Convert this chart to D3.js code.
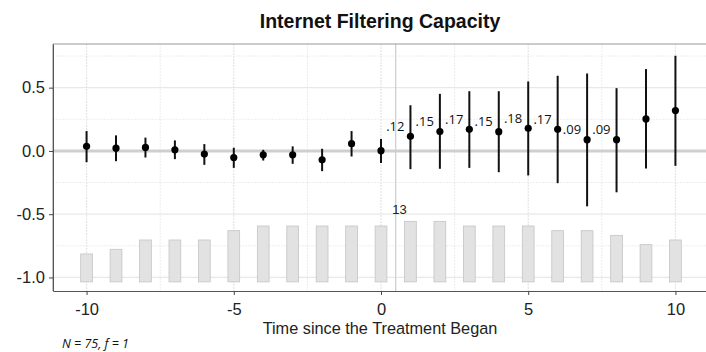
<!DOCTYPE html>
<html>
<head>
<meta charset="utf-8">
<script src="https://cdn.jsdelivr.net/npm/d3@7"></script>
<style>
  html, body { margin: 0; padding: 0; background: #fff; }
  svg { display: block; }
</style>
</head>
<body>
<svg id="chart" width="706" height="352"></svg>
<script>
// Event-time estimates with 95% intervals
const periods   = [-10, -9, -8, -7, -6, -5, -4, -3, -2, -1, 0, 1, 2, 3, 4, 5, 6, 7, 8, 9, 10];
const estimates = [0.036, 0.022, 0.028, 0.009, -0.025, -0.052, -0.031, -0.031, -0.070, 0.057, 0.002,
                   0.115, 0.153, 0.171, 0.152, 0.179, 0.171, 0.089, 0.089, 0.253, 0.319];
const ciLower   = [-0.089, -0.081, -0.052, -0.065, -0.110, -0.134, -0.076, -0.102, -0.160, -0.044, -0.095,
                   -0.144, -0.141, -0.134, -0.168, -0.194, -0.255, -0.438, -0.327, -0.139, -0.118];
const ciUpper   = [0.157, 0.123, 0.105, 0.083, 0.054, 0.025, 0.009, 0.036, 0.017, 0.157, 0.095,
                   0.361, 0.451, 0.472, 0.472, 0.549, 0.594, 0.612, 0.496, 0.647, 0.752];
// Number of treated units observed at each period
const counts    = [6, 7, 9, 9, 9, 11, 12, 12, 12, 12, 12, 13, 13, 12, 12, 12, 11, 11, 10, 8, 9];
// Post-treatment periods that carry a value label
const labelPeriods = [1, 2, 3, 4, 5, 6, 7, 8];
const labelTexts   = [".12", ".15", ".17", ".15", ".18", ".17", ".09", ".09"];
const xTicks = [-10, -5, 0, 5, 10];
const yTicks = [0.5, 0.0, -0.5, -1.0];

(function draw() {
const svg = d3.select("#chart");
const pLeft = 53, pRight = 709, pTop = 44, pBottom = 291;

const x = d3.scaleLinear().domain([-11.14, 11.14]).range([pLeft, pRight]);
const y = d3.scaleLinear().domain([-1.107, 0.845]).range([pBottom, pTop]);

// Count bars sit on a base and rise in proportion to the count
const barBase = -1.035, barUnit = 0.0368, barHalf = 0.2;

// Panel gridlines
const g = svg.append("g");
const minorX = [-7.5, -2.5, 2.5, 7.5];
const minorY = [0.75, 0.25, -0.25, -0.75];
g.selectAll(".gminy").data(minorY).join("line").attr("class", "gminy")
  .attr("x1", pLeft).attr("x2", pRight)
  .attr("y1", d => y(d)).attr("y2", d => y(d))
  .attr("stroke", "#eeeeee").attr("stroke-width", 1).attr("stroke-dasharray", "2,1");
g.selectAll(".gmajy").data(yTicks).join("line").attr("class", "gmajy")
  .attr("x1", pLeft).attr("x2", pRight)
  .attr("y1", d => y(d)).attr("y2", d => y(d))
  .attr("stroke", "#e8e8e8").attr("stroke-width", 1.3);
g.selectAll(".gminx").data(minorX).join("line").attr("class", "gminx")
  .attr("x1", d => x(d)).attr("x2", d => x(d))
  .attr("y1", pTop).attr("y2", pBottom)
  .attr("stroke", "#ececec").attr("stroke-width", 1).attr("stroke-dasharray", "2,1");
g.selectAll(".gmajx").data(xTicks).join("line").attr("class", "gmajx")
  .attr("x1", d => x(d)).attr("x2", d => x(d))
  .attr("y1", pTop).attr("y2", pBottom)
  .attr("stroke", "#e4e4e4").attr("stroke-width", 1.2).attr("stroke-dasharray", "2,1");

// Reference lines: zero effect and treatment onset
svg.append("line")
  .attr("x1", pLeft).attr("x2", pRight)
  .attr("y1", y(0)).attr("y2", y(0))
  .attr("stroke", "#cfcfcf").attr("stroke-width", 3);
svg.append("line")
  .attr("x1", x(0.5)).attr("x2", x(0.5))
  .attr("y1", pTop).attr("y2", pBottom)
  .attr("stroke", "#cccccc").attr("stroke-width", 1.2);

// Count bars
svg.append("g").selectAll("rect").data(periods).join("rect")
  .attr("x", d => x(d - barHalf))
  .attr("width", d => x(d + barHalf) - x(d - barHalf))
  .attr("y", (d, i) => y(barBase + counts[i] * barUnit))
  .attr("height", (d, i) => y(barBase) - y(barBase + counts[i] * barUnit))
  .attr("fill", "#e2e2e2").attr("stroke", "#c4c4c4").attr("stroke-width", 0.8);

// Label on the tallest bar
const maxIdx = d3.maxIndex(counts);
svg.append("text")
  .attr("x", x(periods[maxIdx]) - 11)
  .attr("y", y(barBase + counts[maxIdx] * barUnit) - 7)
  .attr("text-anchor", "middle")
  .attr("font-family", "Liberation Sans, Arial, sans-serif")
  .attr("font-size", 13).attr("fill", "#222")
  .text(counts[maxIdx]);

// Confidence intervals and point estimates
svg.append("g").selectAll("line").data(periods).join("line")
  .attr("x1", d => x(d)).attr("x2", d => x(d))
  .attr("y1", (d, i) => y(ciLower[i])).attr("y2", (d, i) => y(ciUpper[i]))
  .attr("stroke", "#111").attr("stroke-width", 2);
svg.append("g").selectAll("circle").data(periods).join("circle")
  .attr("cx", d => x(d)).attr("cy", (d, i) => y(estimates[i]))
  .attr("r", 3.6).attr("fill", "#000");

// Value labels next to the post-treatment estimates
svg.append("g").selectAll("text").data(labelPeriods).join("text")
  .attr("x", d => x(d) - 6)
  .attr("y", d => y(estimates[periods.indexOf(d)]) - 5.5)
  .attr("text-anchor", "end")
  .attr("font-family", "Open Sans, sans-serif")
  .attr("font-size", 13).attr("fill", "#111")
  .text((d, i) => labelTexts[i]);

// Panel border (top and left)
svg.append("line").attr("x1", pLeft).attr("x2", pRight).attr("y1", pTop).attr("y2", pTop)
  .attr("stroke", "#9a9a9a").attr("stroke-width", 1.2);
svg.append("line").attr("x1", pLeft).attr("x2", pLeft).attr("y1", pTop).attr("y2", pBottom)
  .attr("stroke", "#9a9a9a").attr("stroke-width", 1.2);

// Axes
const xAxis = svg.append("g").attr("transform", `translate(0,${pBottom})`)
  .call(d3.axisBottom(x).tickValues(xTicks).tickSize(4).tickPadding(8).tickSizeOuter(0));
const yAxis = svg.append("g").attr("transform", `translate(${pLeft},0)`)
  .call(d3.axisLeft(y).tickValues(yTicks).tickSize(4).tickPadding(4).tickSizeOuter(0));
[xAxis, yAxis].forEach(a => {
  a.select(".domain").attr("stroke", "#555").attr("stroke-width", 1);
  a.selectAll(".tick line").attr("stroke", "#444");
  a.selectAll(".tick text")
    .attr("font-family", "Liberation Sans, Arial, sans-serif")
    .attr("font-size", 16.5).attr("fill", "#222");
});
yAxis.selectAll(".tick text").text(d => d.toFixed(1).replace("−", "-"));
xAxis.selectAll(".tick text").text(d => String(d));

// Titles
svg.append("text")
  .attr("x", 380).attr("y", 28)
  .attr("text-anchor", "middle")
  .attr("font-family", "Liberation Sans, Arial, sans-serif")
  .attr("font-weight", "bold").attr("font-size", 19.5).attr("fill", "#111")
  .text("Internet Filtering Capacity");
svg.append("text")
  .attr("x", 380).attr("y", 334)
  .attr("text-anchor", "middle")
  .attr("font-family", "Liberation Sans, Arial, sans-serif")
  .attr("font-size", 16.3).attr("fill", "#222")
  .text("Time since the Treatment Began");
svg.append("text")
  .attr("x", 62).attr("y", 348)
  .attr("font-family", "Open Sans, sans-serif")
  .attr("font-style", "italic").attr("font-size", 12.5).attr("fill", "#111")
  .text("N = 75, f = 1");
})();
</script>
</body>
</html>
